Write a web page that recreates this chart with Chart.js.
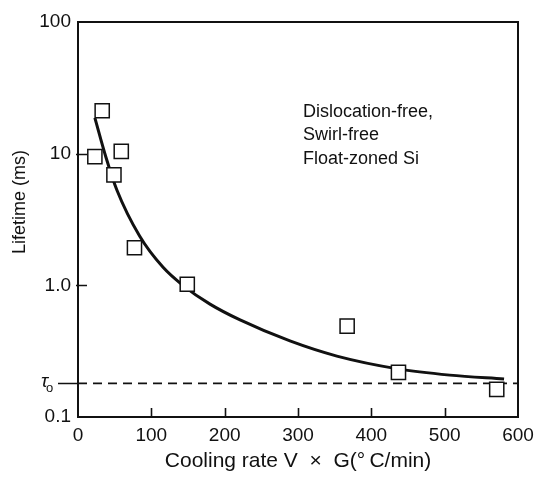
<!DOCTYPE html>
<html><head><meta charset="utf-8">
<script src="https://cdn.jsdelivr.net/npm/chart.js@4.4.1/dist/chart.umd.min.js"></script>
<style>html,body{margin:0;padding:0;background:#fff}canvas{display:block}</style>
</head><body>
<canvas id="c" width="536" height="478"></canvas>
<script>
// measured points (squares)
const measuredRate = [23, 33, 49, 59, 77, 149, 367, 437, 571];
const measuredLifetime = [9.5, 21.2, 6.9, 10.4, 1.93, 1.02, 0.49, 0.218, 0.162];
// fitted curve
const fitRate = [23, 38, 53, 84, 116, 143, 180, 221, 289, 353, 436, 507, 581];
const fitLifetime = [18.7, 9.44, 5.3, 2.37, 1.37, 1.0, 0.72, 0.546, 0.378, 0.29, 0.232, 0.208, 0.194];
// tau0 asymptote
const TAU0 = 0.18;
const tau0Rate = [0, 600];
const tau0Lifetime = [TAU0, TAU0];
// axes
const xTickValues = [0, 100, 200, 300, 400, 500, 600];
const yTickValues = [0.1, 1, 10, 100];
const yTickLabels = ['0.1', '1.0', '10', '100'];
const xTitle = 'Cooling rate V  \u00D7  G(\u00B0\u2009C/min)';
const yTitle = 'Lifetime (ms)';
const annotationLines = ['Dislocation-free,', 'Swirl-free', 'Float-zoned Si'];

const INK = '#111';
const FONT = "'Liberation Sans', Arial, Helvetica, sans-serif";

const pts = (xs, ys) => xs.map((x, i) => ({x, y: ys[i]}));

const deco = {
  id: 'deco',
  afterDatasetsDraw(chart) {
    const {ctx, chartArea: a, scales: {x, y}} = chart;
    ctx.save();
    ctx.strokeStyle = INK;
    ctx.lineWidth = 2;
    ctx.strokeRect(a.left, a.top, a.right - a.left, a.bottom - a.top);
    ctx.lineWidth = 1.6;
    ctx.beginPath();
    xTickValues.slice(1, -1).forEach(v => {
      const px = Math.round(x.getPixelForValue(v)) + 0.5;
      ctx.moveTo(px, a.bottom); ctx.lineTo(px, a.bottom - 9);
    });
    [1, 10].forEach(v => {
      const py = Math.round(y.getPixelForValue(v)) + 0.5;
      ctx.moveTo(a.left - 2, py); ctx.lineTo(a.left + 9, py);
    });
    const pt = Math.round(y.getPixelForValue(TAU0)) + 0.5;
    ctx.moveTo(a.left - 20, pt); ctx.lineTo(a.left, pt);
    ctx.stroke();
    ctx.restore();
  },
  afterDraw(chart) {
    const {ctx, scales: {y}} = chart;
    ctx.save();
    ctx.fillStyle = INK;
    // tau0 label
    const pt = y.getPixelForValue(TAU0);
    ctx.font = 'italic 19px ' + FONT;
    ctx.textAlign = 'right';
    ctx.textBaseline = 'middle';
    ctx.fillText('\u03C4', 48, pt - 2);
    ctx.font = '13px ' + FONT;
    ctx.textAlign = 'left';
    ctx.fillText('o', 46, pt + 5);
    // y title
    ctx.save();
    ctx.translate(20, 202);
    ctx.rotate(-Math.PI / 2);
    ctx.font = '18px ' + FONT;
    ctx.textAlign = 'center';
    ctx.textBaseline = 'middle';
    ctx.fillText(yTitle, 0, 0);
    ctx.restore();
    // annotation
    ctx.font = '18px ' + FONT;
    ctx.textAlign = 'left';
    ctx.textBaseline = 'alphabetic';
    annotationLines.forEach((t, i) => ctx.fillText(t, 303, 117 + i * 23.3));
    ctx.restore();
  }
};

new Chart(document.getElementById('c'), {
  type: 'scatter',
  data: {
    datasets: [
      {
        label: 'measured',
        data: pts(measuredRate, measuredLifetime),
        pointStyle: 'rect',
        pointRadius: 10,
        pointBorderWidth: 1.5,
        pointBackgroundColor: '#fff',
        pointBorderColor: INK,
        showLine: false,
        clip: false
      },
      {
        label: 'fit',
        data: pts(fitRate, fitLifetime),
        showLine: true,
        borderColor: INK,
        borderWidth: 3,
        pointRadius: 0,
        cubicInterpolationMode: 'monotone',
        fill: false
      },
      {
        label: 'tau0',
        data: pts(tau0Rate, tau0Lifetime),
        showLine: true,
        borderColor: INK,
        borderWidth: 1.6,
        borderDash: [9, 6],
        pointRadius: 0,
        fill: false
      }
    ]
  },
  options: {
    responsive: false,
    animation: false,
    devicePixelRatio: 1,
    layout: {padding: {top: 22, right: 18, left: 0, bottom: 0}},
    plugins: {legend: {display: false}, tooltip: {enabled: false}},
    scales: {
      x: {
        type: 'linear',
        min: 0, max: 600,
        afterBuildTicks: s => { s.ticks = xTickValues.map(v => ({value: v})); },
        afterFit: s => { s.height = 61; s.paddingLeft = 0; s.paddingRight = 0; },
        grid: {display: false, drawTicks: false},
        border: {display: false},
        ticks: {color: INK, font: {family: FONT, size: 19}, padding: 7, maxRotation: 0},
        title: {display: true, text: xTitle, color: INK, font: {family: FONT, size: 21}, padding: {top: 0, bottom: 4}}
      },
      y: {
        type: 'logarithmic',
        min: 0.1, max: 100,
        afterBuildTicks: s => { s.ticks = yTickValues.map(v => ({value: v})); },
        afterFit: s => { s.width = 78; s.paddingTop = 0; s.paddingBottom = 0; },
        grid: {display: false, drawTicks: false},
        border: {display: false},
        ticks: {
          color: INK, font: {family: FONT, size: 19}, padding: 7,
          callback: (v) => { const i = yTickValues.indexOf(v); return i >= 0 ? yTickLabels[i] : ''; }
        }
      }
    }
  },
  plugins: [deco]
});
</script>
</body></html>
